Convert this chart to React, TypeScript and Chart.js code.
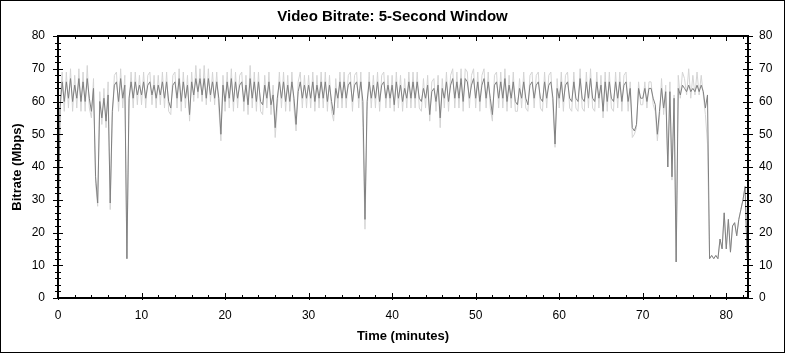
import React, { useEffect, useRef } from 'react';
import { Chart, registerables } from 'chart.js';

Chart.register(...registerables);

const TITLE = 'Video Bitrate: 5-Second Window';
const X_TITLE = 'Time (minutes)';
const Y_TITLE = 'Bitrate (Mbps)';

const STEP_MIN = 0.25;
const X_MAX = 82.6;
const Y_MAX = 80;
const xTickValues = [0, 10, 20, 30, 40, 50, 60, 70, 80];
const yTickValues = [0, 10, 20, 30, 40, 50, 60, 70, 80];
const xMinorStep = 2;
const yMinorStep = 2;

// 5-second window bitrate (Mbps), one value every 0.25 min
const windowBitrate = [
  13, 58, 66, 60,
  66, 61, 67, 60,
  65, 61, 67, 60,
  66, 60, 67, 61,
  57, 64, 37, 29,
  60, 55, 61, 54,
  62, 29, 57, 65,
  66, 60, 67, 61,
  65, 12, 61, 66,
  61, 66, 62, 65,
  62, 66, 61, 65,
  66, 62, 65, 61,
  65, 62, 66, 61,
  66, 60, 58, 65,
  66, 61, 67, 60,
  66, 61, 65, 56,
  66, 62, 67, 63,
  67, 62, 67, 61,
  67, 62, 66, 61,
  66, 61, 50, 65,
  60, 66, 61, 67,
  60, 66, 61, 65,
  66, 60, 65, 59,
  67, 61, 66, 60,
  66, 60, 59, 65,
  61, 66, 59, 62,
  52, 61, 66, 61,
  66, 60, 65, 60,
  66, 61, 53, 63,
  66, 61, 65, 61,
  65, 61, 66, 60,
  65, 61, 66, 61,
  66, 60, 65, 60,
  56, 64, 61, 66,
  61, 66, 61, 65,
  66, 60, 65, 66,
  61, 66, 60, 24,
  60, 66, 61, 65,
  61, 66, 60, 65,
  66, 61, 65, 61,
  65, 59, 66, 61,
  65, 60, 64, 61,
  66, 61, 66, 61,
  66, 61, 60, 64,
  61, 65, 56, 63,
  64, 60, 65, 55,
  64, 61, 66, 60,
  65, 67, 61, 66,
  61, 67, 60, 67,
  66, 61, 65, 67,
  61, 66, 60, 65,
  67, 61, 66, 61,
  56, 65, 66, 61,
  66, 61, 67, 60,
  65, 61, 66, 60,
  59, 64, 61, 66,
  61, 59, 65, 66,
  61, 65, 66, 61,
  60, 66, 61, 65,
  66, 61, 47, 64,
  61, 66, 60, 65,
  66, 61, 60, 66,
  61, 60, 67, 61,
  60, 66, 61, 67,
  61, 60, 66, 61,
  65, 57, 66, 60,
  66, 61, 60, 66,
  61, 66, 60, 65,
  66, 60, 64, 52,
  51, 53, 64, 61,
  61, 64, 60, 64,
  64, 61, 59, 50,
  57, 64, 58, 63,
  40, 63, 37, 61,
  11, 64, 62, 65,
  64, 63, 65, 63,
  64, 63, 65, 63,
  65, 63, 58, 62,
  12, 13, 12, 13,
  12, 18, 15, 26,
  15, 24, 14, 22,
  23, 19, 24, 27,
  30, 34, 12,
];

// per-sample bitrate (Mbps), same timestamps, lighter trace
const sampleBitrate = [
  35, 60, 69, 57,
  69, 58, 70, 57,
  68, 58, 70, 57,
  69, 57, 71, 58,
  55, 67, 35, 28,
  63, 53, 64, 52,
  66, 27, 55, 68,
  69, 57, 70, 58,
  68, 12, 58, 69,
  58, 69, 59, 68,
  59, 69, 58, 68,
  69, 59, 68, 58,
  68, 59, 69, 58,
  69, 57, 56, 68,
  69, 58, 70, 57,
  69, 58, 68, 54,
  69, 60, 71, 61,
  70, 60, 71, 59,
  70, 60, 69, 59,
  69, 58, 48, 68,
  57, 69, 58, 70,
  57, 69, 58, 68,
  69, 57, 68, 56,
  71, 58, 69, 57,
  69, 57, 56, 68,
  58, 69, 56, 65,
  49, 58, 69, 58,
  69, 57, 68, 57,
  69, 58, 51, 66,
  69, 58, 68, 58,
  68, 58, 69, 57,
  68, 58, 69, 58,
  69, 57, 68, 57,
  54, 67, 58, 69,
  58, 69, 58, 68,
  69, 57, 68, 69,
  58, 69, 52, 21,
  57, 69, 58, 68,
  58, 69, 57, 68,
  69, 58, 68, 58,
  68, 57, 69, 58,
  68, 57, 67, 58,
  69, 58, 69, 58,
  69, 58, 57, 67,
  58, 68, 54, 66,
  67, 57, 68, 52,
  67, 58, 69, 57,
  68, 70, 58, 69,
  58, 70, 57, 70,
  69, 58, 68, 70,
  58, 69, 57, 68,
  70, 58, 69, 58,
  54, 68, 69, 58,
  69, 58, 70, 57,
  68, 58, 69, 57,
  57, 67, 58, 69,
  58, 57, 68, 69,
  58, 68, 69, 58,
  57, 69, 58, 68,
  69, 58, 46, 67,
  58, 69, 57, 68,
  69, 58, 57, 69,
  58, 57, 70, 58,
  57, 69, 58, 70,
  58, 57, 69, 58,
  68, 55, 69, 57,
  69, 58, 57, 69,
  58, 69, 57, 68,
  69, 57, 66, 49,
  50, 52, 66, 59,
  59, 66, 58, 66,
  66, 59, 57, 48,
  55, 67, 56, 65,
  40, 66, 36, 62,
  11, 68, 61, 69,
  67, 62, 70, 61,
  68, 62, 69, 62,
  68, 62, 56, 47,
  12, 13, 12, 13,
  12, 18, 15, 26,
  15, 24, 14, 22,
  23, 19, 24, 27,
  30, 34, 12,
];

const DARK = '#808080';
const LIGHT = '#d4d4d4';
const FONT = '"Liberation Sans", Arial, sans-serif';

const framePlugin = {
  id: 'frameTicks',
  afterDraw(chart: any) {
    const ctx = chart.ctx;
    const { left, right, top, bottom } = chart.chartArea;
    const xs = chart.scales.x;
    const ys = chart.scales.y;
    ctx.save();
    ctx.strokeStyle = '#000';
    ctx.lineWidth = 2;
    ctx.strokeRect(left, top, right - left, bottom - top);
    ctx.lineWidth = 1;
    ctx.beginPath();
    for (let v = 0; v <= X_MAX + 1e-9; v += xMinorStep) {
      const px = Math.round(xs.getPixelForValue(v)) + 0.5;
      const major = xTickValues.includes(v);
      const up = major ? 5 : 3;
      const down = major ? 2 : 1;
      ctx.moveTo(px, bottom - up);
      ctx.lineTo(px, bottom + down);
      ctx.moveTo(px, top);
      ctx.lineTo(px, top + up);
    }
    for (let v = 0; v <= Y_MAX + 1e-9; v += yMinorStep) {
      const py = Math.round(ys.getPixelForValue(v)) + 0.5;
      const major = yTickValues.includes(v);
      const a = major ? 5 : 3;
      ctx.moveTo(left - a, py);
      ctx.lineTo(left + a, py);
      ctx.moveTo(right - a, py);
      ctx.lineTo(right + a, py);
    }
    ctx.stroke();
    ctx.strokeRect(0.5, 0.5, chart.width - 1, chart.height - 1);
    ctx.restore();
  },
};

export default function App() {
  const ref = useRef<HTMLCanvasElement | null>(null);

  useEffect(() => {
    if (!ref.current) return;
    const times = windowBitrate.map((_, i) => i * STEP_MIN);
    const chart = new Chart(ref.current, {
      type: 'line',
      data: {
        datasets: [
          {
            label: '5-second window',
            data: windowBitrate.map((y, i) => ({ x: times[i], y })),
            borderColor: DARK,
            borderWidth: 1,
            pointRadius: 0,
            tension: 0,
            fill: false,
          },
          {
            label: 'Samples',
            data: sampleBitrate.map((y, i) => ({ x: times[i], y })),
            borderColor: LIGHT,
            borderWidth: 1,
            pointRadius: 0,
            tension: 0,
            fill: false,
          },
        ],
      },
      options: {
        animation: false,
        responsive: false,
        maintainAspectRatio: false,
        layout: { padding: 0 },
        plugins: {
          legend: { display: false },
          tooltip: { enabled: false },
          title: {
            display: true,
            text: TITLE,
            color: '#000',
            font: { family: FONT, size: 15, weight: 'bold' },
            padding: { top: 8, bottom: 10 },
          },
        },
        scales: {
          x: {
            type: 'linear',
            position: 'bottom',
            min: 0,
            max: X_MAX,
            grid: { display: false, drawTicks: false },
            border: { display: false },
            afterBuildTicks: (s: any) => {
              s.ticks = xTickValues.map((value) => ({ value }));
            },
            afterFit: (s: any) => {
              s.height = 55;
            },
            ticks: {
              color: '#000',
              font: { family: FONT, size: 12 },
              padding: 10,
              maxRotation: 0,
              autoSkip: false,
            },
            title: {
              display: true,
              text: X_TITLE,
              color: '#000',
              font: { family: FONT, size: 13, weight: 'bold' },
              padding: { top: 0, bottom: 9 },
            },
          },
          y: {
            type: 'linear',
            position: 'left',
            min: 0,
            max: Y_MAX,
            grid: { display: false, drawTicks: false },
            border: { display: false },
            afterBuildTicks: (s: any) => {
              s.ticks = yTickValues.map((value) => ({ value }));
            },
            afterFit: (s: any) => {
              s.width = 58;
            },
            ticks: {
              color: '#000',
              font: { family: FONT, size: 12 },
              padding: 13,
            },
            title: {
              display: true,
              text: Y_TITLE,
              color: '#000',
              font: { family: FONT, size: 13, weight: 'bold' },
              padding: { top: 10, bottom: 0 },
            },
          },
          y2: {
            type: 'linear',
            position: 'right',
            min: 0,
            max: Y_MAX,
            grid: { display: false, drawTicks: false },
            border: { display: false },
            afterBuildTicks: (s: any) => {
              s.ticks = yTickValues.map((value) => ({ value }));
            },
            afterFit: (s: any) => {
              s.width = 37;
            },
            ticks: {
              color: '#000',
              font: { family: FONT, size: 12 },
              padding: 11,
            },
          },
        },
      },
      plugins: [framePlugin],
    });
    return () => chart.destroy();
  }, []);

  return (
    <div style={{ position: 'absolute', left: 0, top: 0, width: 785, height: 353, background: '#fff' }}>
      <canvas ref={ref} width={785} height={353} />
    </div>
  );
}
